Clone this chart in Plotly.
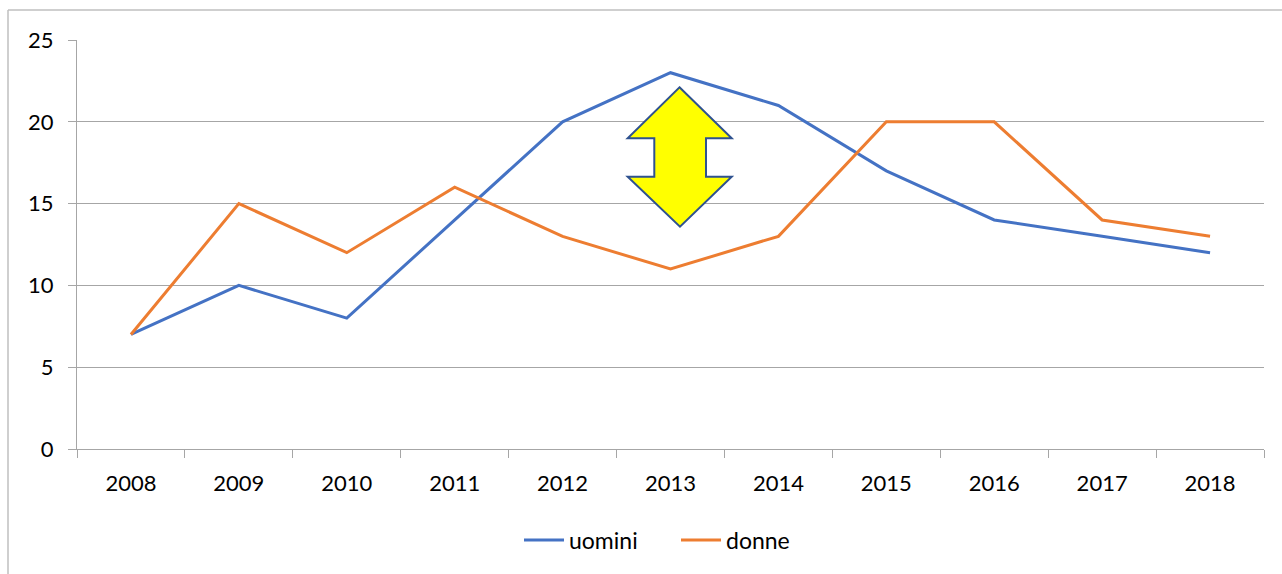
import plotly.graph_objects as go

years = ["2008", "2009", "2010", "2011", "2012", "2013", "2014", "2015", "2016", "2017", "2018"]
uomini = [7, 10, 8, 14, 20, 23, 21, 17, 14, 13, 12]
donne = [7, 15, 12, 16, 13, 11, 13, 20, 20, 14, 13]

W, H = 1282, 574
L, R, T, B = 77, 18, 40, 125
PW, PH = W - L - R, H - T - B

def px(x):
    return (x - L) / PW

def py(y):
    return (H - B - y) / PH

FONT = dict(family="Lato, Open Sans, sans-serif", size=22, color="#000000")
LFONT = dict(family="Lato, Open Sans, sans-serif", size=23, color="#000000")
GRID = "#A6A6A6"

fig = go.Figure()
fig.add_trace(go.Scatter(x=years, y=uomini, mode="lines", name="uomini",
                         line=dict(color="#4472C4", width=3)))
fig.add_trace(go.Scatter(x=years, y=donne, mode="lines", name="donne",
                         line=dict(color="#ED7D31", width=3)))

# double arrow (pixel outline converted to paper coords)
pts = [(679.5, 87.3), (731.7, 138.3), (706, 138.3), (706, 176.7), (731.7, 176.7),
       (680, 226.7), (627.7, 176.7), (654.3, 176.7), (654.3, 138.3), (627.7, 138.3)]
path = "M " + " L ".join(f"{px(a):.5f},{py(b):.5f}" for a, b in pts) + " Z"

shapes = [
    dict(type="path", xref="paper", yref="paper", path=path,
         fillcolor="#FFFF00", line=dict(color="#2F528F", width=2), layer="above"),
    # chart border
    dict(type="line", xref="paper", yref="paper", x0=px(8), x1=px(8), y0=py(10), y1=py(600),
         line=dict(color="#BFBFBF", width=1.5)),
    dict(type="line", xref="paper", yref="paper", x0=px(8), x1=px(1300), y0=py(10), y1=py(10),
         line=dict(color="#BFBFBF", width=1.5)),
]

fig.update_layout(
    width=W, height=H,
    margin=dict(l=L, r=R, t=T, b=B),
    paper_bgcolor="white", plot_bgcolor="white",
    font=FONT,
    shapes=shapes,
    showlegend=True,
    legend=dict(orientation="h", x=px(676), xanchor="center", y=py(540), yanchor="middle",
                font=LFONT, itemwidth=40, traceorder="normal",
                entrywidth=102, entrywidthmode="pixels"),
    xaxis=dict(type="category", range=[-0.5, len(years) - 0.5],
               tickson="boundaries", ticks="outside", ticklen=8,
               tickcolor=GRID, showline=True, linecolor=GRID, linewidth=1,
               showgrid=False, tickfont=FONT, ticklabelstandoff=15),
    yaxis=dict(range=[0, 25], dtick=5, ticks="outside", ticklen=8, tickcolor=GRID,
               showline=True, linecolor=GRID, linewidth=1, showgrid=True,
               gridcolor=GRID, gridwidth=1, zeroline=False, tickfont=FONT,
               ticklabelstandoff=10),
)

fig.write_html("out.html", config={"displayModeBar": False},
               post_script="document.body.style.margin='0';document.body.style.overflow='hidden';")
